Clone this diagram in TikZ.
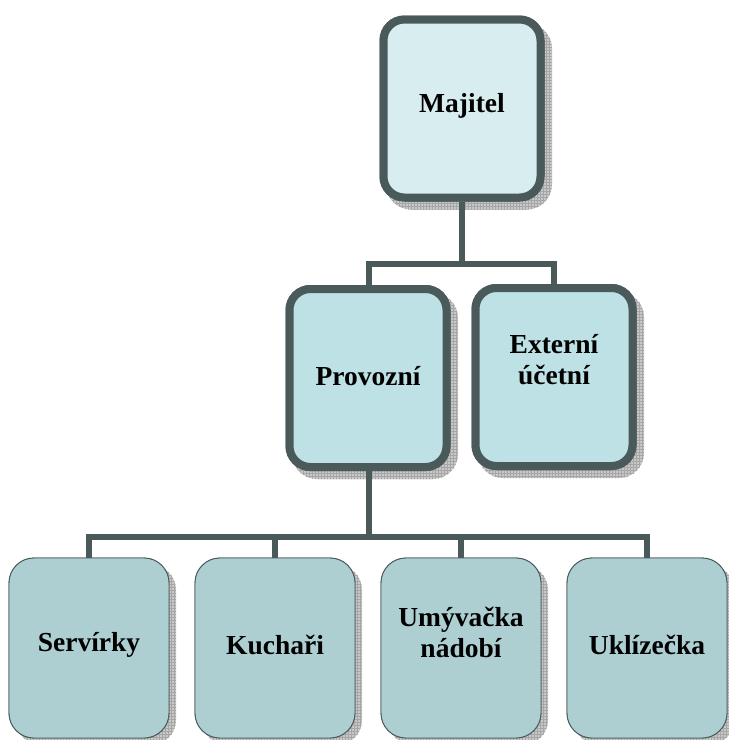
\documentclass[tikz,border=0pt]{standalone}
\usepackage{fontspec}
\setmainfont{Liberation Serif}
\usetikzlibrary{patterns}
\definecolor{edgec}{HTML}{4A5A5A}
\definecolor{fillA}{HTML}{D8EDF0}
\definecolor{fillB}{HTML}{BDE1E4}
\definecolor{fillC}{HTML}{AECFD2}
\definecolor{shadc}{HTML}{C8C8C8}
\tikzset{
  topbox/.style={draw=edgec, line width=8pt, rounded corners=21pt, minimum width=157pt, minimum height=178pt, inner sep=0pt},
  lowbox/.style={draw=edgec, line width=0.9pt, fill=fillC, rounded corners=25pt, minimum width=160pt, minimum height=180pt, inner sep=0pt},
  txt/.style={align=center, inner sep=0pt, font=\fontsize{27.5}{31}\selectfont\bfseries},
  shad/.style={fill=shadc, rounded corners=25pt},
  shadgrid/.style={pattern=grid, pattern color=gray!70, rounded corners=25pt},
  conn/.style={draw=edgec, line width=6pt}
}
\begin{document}
\begin{tikzpicture}[x=1pt,y=-1pt]
\useasboundingbox (0,0) rectangle (729,740);
% shadows
\foreach \cx/\cy in {462/108.5, 368/378, 554/377}{
  \fill[shad] (\cx-83+7,\cy-93+8) rectangle (\cx+83+7,\cy+93+8);
  \fill[shadgrid] (\cx-83+7,\cy-93+8) rectangle (\cx+83+7,\cy+93+8);
}
\foreach \cx in {89,275,461,647}{
  \fill[shad] (\cx-80+7,648-90+7) rectangle (\cx+80+7,648+90+7);
  \fill[shadgrid] (\cx-80+7,648-90+7) rectangle (\cx+80+7,648+90+7);
}
% connector junctions
\coordinate (bar1) at (462,264);
\coordinate (bar2) at (369,537);
\coordinate (proc) at (369,378);
% boxes (named, for connectors)
\path (462,108.5) node[topbox] (maj) {};
\path (368,378) node[topbox] (pro) {};
\path (554,377) node[topbox] (ext) {};
\path (89,648) node[lowbox] (ser) {};
\path (275,648) node[lowbox] (kuc) {};
\path (461,648) node[lowbox] (umy) {};
\path (647,648) node[lowbox] (ukl) {};
% connectors
\draw[conn] (maj.south) -- (bar1);
\draw[conn] (proc |- pro.north) |- (bar1) -| (ext.north);
\draw[conn] (proc |- pro.south) -- (bar2);
\draw[conn] (ser.north) |- (bar2) -| (ukl.north);
\draw[conn] (kuc.north) -- (kuc.north |- bar2);
\draw[conn] (umy.north) -- (umy.north |- bar2);
% boxes drawn over connector ends
\node[topbox, fill=fillA] at (maj.center) {};
\node[topbox, fill=fillB] at (pro.center) {};
\node[topbox, fill=fillB] at (ext.center) {};
\node[lowbox] at (ser.center) {};
\node[lowbox] at (kuc.center) {};
\node[lowbox] at (umy.center) {};
\node[lowbox] at (ukl.center) {};
% texts
\node[txt] (tmaj) at ([yshift=3pt]maj.center) {Majitel};
\node[txt] (tpro) at ([yshift=2pt]pro.center) {Provozní};
\node[txt] (text) at ([yshift=17pt]ext.center) {Externí\\účetní};
\node[txt] (tser) at ([yshift=3pt]ser.center) {Servírky};
\node[txt] (tkuc) at ([yshift=3pt]kuc.center) {Kuchaři};
\node[txt] (tumy) at ([yshift=16pt]umy.center) {Umývačka\\nádobí};
\node[txt] (tukl) at ([yshift=3pt]ukl.center) {Uklízečka};
\end{tikzpicture}
\end{document}
